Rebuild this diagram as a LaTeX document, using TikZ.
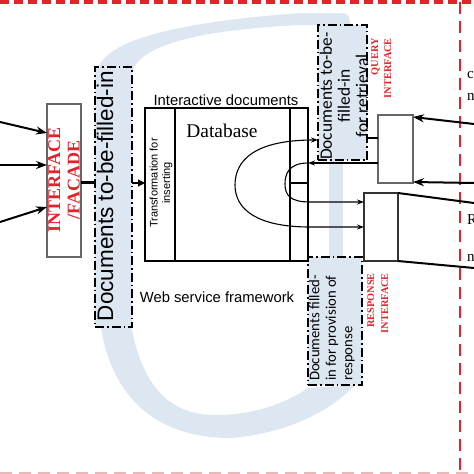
\documentclass[tikz,border=0pt]{standalone}
\usepackage{fontspec}
\setmainfont{Liberation Serif}
\setsansfont{Liberation Sans}
\newfontfamily\calibfont{Carlito}
\usetikzlibrary{arrows.meta,calc}
\definecolor{pipeblue}{HTML}{DDE7F2}
\definecolor{ifred}{HTML}{E2232A}
\definecolor{palered}{HTML}{EBB7B7}
\begin{document}
\begin{tikzpicture}[x=1pt,y=-1pt,
    docbox/.style={draw=black, line width=1.8pt, fill=pipeblue, outer sep=0pt,
        dash pattern=on 9pt off 3pt on 1.5pt off 3pt, anchor=north west},
    ifbox/.style={draw=black!60, line width=1.2pt, outer sep=0pt, anchor=north west},
    dbcol/.style={draw=black, line width=1.2pt, outer sep=0pt, anchor=north west},
    bigarrow/.style={line width=2pt, -{Stealth[length=11pt,width=8pt]}},
    thinarrow/.style={line width=1.1pt, -{Stealth[length=7pt,width=5pt]}},
    iflabel/.style={text=ifred, inner sep=0pt, rotate=90},
]
    \useasboundingbox (0,0) rectangle (474,474);

    % The blue pipe running round the framework
    \fill[pipeblue] (97,75) .. controls (97,40) and (180,22) .. (300,13)
        -- (342,13) .. controls (348,13) and (350,17) .. (350,25)
        -- (300,25) .. controls (200,30) and (135,45) .. (132,75) -- cycle;
    \fill[pipeblue] (100,320) .. controls (108,390) and (150,438) .. (230,438)
        .. controls (285,434) and (330,412) .. (355,385)
        -- (308,388) .. controls (290,400) and (260,415) .. (215,415)
        .. controls (165,415) and (140,380) .. (130,320) -- cycle;
    \fill[pipeblue] (329,160) rectangle (343,257);

    % Frame of the system
    \draw[ifred, line width=3.5pt, dash pattern=on 9pt off 5pt] (0,2) -- (474,2);
    \draw[ifred, line width=1.5pt, dash pattern=on 12pt off 7pt] (460,2) -- (460,474);
    \draw[palered, line width=3pt, dash pattern=on 12pt off 7pt] (0,473) -- (474,473);

    % Boxes
    \node[ifbox, minimum width=34pt, minimum height=153pt] (facade) at (47,104) {};
    \node[docbox, minimum width=37pt, minimum height=260pt] (leftdoc) at (95,67) {};
    \node[docbox, minimum width=49pt, minimum height=135pt] (topdoc) at (318,25) {};
    \node[docbox, minimum width=54pt, minimum height=128pt] (botdoc) at (308,257) {};
    \node[ifbox, minimum width=35pt, minimum height=68pt] (query) at (378,115) {};
    \node[dbcol, draw=black!80, minimum width=34pt, minimum height=68pt] (resp) at (364,193) {};

    % Interactive documents
    \node[dbcol, minimum width=30pt, minimum height=153pt] (trans) at (145,108) {};
    \node[dbcol, minimum width=115pt, minimum height=153pt] (dbase) at (175,108) {};
    \node[dbcol, minimum width=18pt, minimum height=153pt] (outcol) at (290,108) {};
    \draw[line width=2pt] (outcol.north east) -- (outcol.south east);
    \draw[line width=1.1pt] (outcol.west |- 0,183) -- (outcol.east |- 0,183);

    % Texts
    \node[font=\sffamily\fontsize{14.8}{16}\selectfont] (intdoc) at (226,100) {Interactive\ documents};
    \node[font=\fontsize{19.4}{21}\selectfont] (dbtext) at (222,131) {Database};
    \node[font=\sffamily\fontsize{14.8}{16}\selectfont] (wsf) at (217,297) {Web service framework};
    \node[rotate=90, align=center, inner sep=0pt, font=\sffamily\fontsize{11}{12.5}\selectfont]
        (transtext) at (161,183) {Transformation for\\inserting};
    \node[rotate=90, inner sep=0pt, font=\sffamily\fontsize{22.5}{25}\selectfont]
        (lefttext) at (105,196) {Documents to-be-filled-in};
    \node[rotate=90, align=center, inner sep=0pt, font=\calibfont\fontsize{17.4}{18}\selectfont]
        (toptext) at (344,96) {Documents to-be-\\filled-in\\for retrieval};
    \node[rotate=90, align=left, anchor=north west, inner sep=0pt, font=\calibfont\fontsize{14.7}{16.5}\selectfont]
        (bottext) at (309,381) {Documents filled-\\in for provision of\\response};
    \node[iflabel, align=center, font=\bfseries\fontsize{18}{19.5}\selectfont]
        (facadetext) at (64,180) {INTERFACE\\/FACADE};
    \node[iflabel, align=right, anchor=north east, font=\bfseries\fontsize{10.3}{13}\selectfont]
        (querytext) at (371,38) {QUERY\\INTERFACE};
    \node[iflabel, align=right, anchor=north east, font=\bfseries\fontsize{10.3}{14}\selectfont]
        (resptext) at (367,273) {RESPONSE\\INTERFACE};
    \foreach \y/\c in {75/c, 97/n, 220/R, 258/n}
        \node[anchor=west, inner sep=0pt, font=\fontsize{15}{15}\selectfont] at (467,\y) {\c};

    % Incoming and outgoing connections
    \coordinate (in1) at (0,122);
    \coordinate (in2) at (0,165);
    \coordinate (in3) at (0,222);
    \coordinate (qin1) at (474,124);
    \coordinate (qin2) at (474,183);
    \coordinate (rout1) at (474,203);
    \coordinate (rout2) at (474,268);
    \draw[bigarrow] (in1) -- ($(facade.north west)+(0,29)$);
    \draw[bigarrow] (in2) -- (facade.west |- in2);
    \draw[bigarrow] (in3) -- ($(facade.north west)+(0,103)$);
    \draw[bigarrow] (qin1) -- ($(query.north east)+(0,2)$);
    \draw[bigarrow] (qin2) -- ($(query.south east)+(0,-1)$);
    \draw[line width=2pt] (resp.north east) -- (rout1);
    \draw[line width=2pt] (resp.south east) -- (rout2);

    % Connections inside the framework
    \draw[line width=3pt] ($(facade.north east)+(0,78)$) -- ($(leftdoc.north west)+(0,115)$);
    \draw[line width=1.1pt, -{Triangle[length=7pt,width=7pt]}] ($(leftdoc.north east)+(0,116)$) -- (trans.west |- 0,183);
    \draw[thinarrow, {Stealth[length=7pt,width=5pt]}-{Stealth[length=7pt,width=5pt]}]
        (topdoc.west |- 0,140) .. controls (255,140) and (235,160) .. (235,185)
        .. controls (235,210) and (258,227) .. (310,227) -- (resp.west |- 0,227);
    \draw[thinarrow] (query.west |- 0,163) -- (outcol.east |- 0,163);
    \draw[thinarrow] (outcol.east |- 0,163) .. controls (288,163) and (285,175) .. (285,184)
        .. controls (285,195) and (290,202) .. (310,202) -- (resp.west |- 0,202);
    \draw[line width=1.1pt] (topdoc.east |- 0,138) -- (query.west |- 0,138);
\end{tikzpicture}
\end{document}
